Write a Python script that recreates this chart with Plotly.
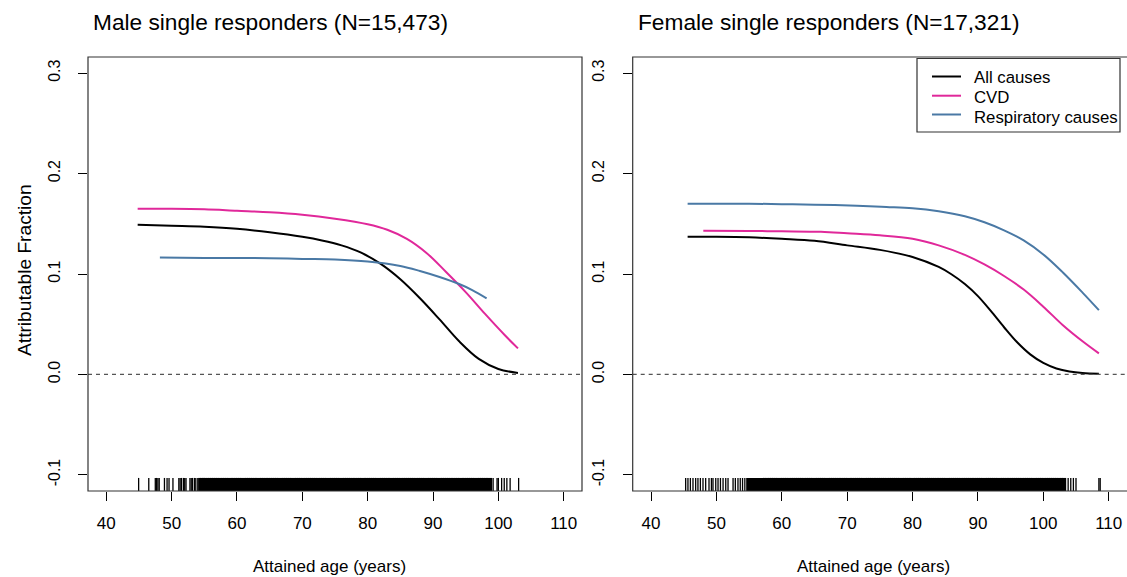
import plotly.graph_objects as go

W, H = 1127, 577

# ---------------- data ----------------
panel_titles = ["Male single responders (N=15,473)", "Female single responders (N=17,321)"]
series_names = ["All causes", "CVD", "Respiratory causes"]
series_colors = ["#000000", "#E0289A", "#4A79A5"]

male_all_age = [44.8, 50, 55, 60, 65, 70, 73, 76, 79, 82, 85, 88, 91, 94, 97, 100, 103]
male_all_af = [0.149, 0.148, 0.147, 0.145, 0.1415, 0.137, 0.1334, 0.1285, 0.1212, 0.1100, 0.0947, 0.0758, 0.0548, 0.033, 0.0155, 0.0055, 0.0015]

male_cvd_age = [44.8, 50, 55, 60, 65, 70, 75, 80, 83, 86, 89, 92, 95, 98, 101, 103]
male_cvd_af = [0.165, 0.165, 0.1645, 0.163, 0.1615, 0.159, 0.155, 0.1495, 0.144, 0.135, 0.121, 0.102, 0.082, 0.060, 0.039, 0.026]

male_resp_age = [48.2, 55, 60, 65, 70, 75, 80, 85, 88, 91, 94, 96, 98.2]
male_resp_af = [0.1163, 0.116, 0.116, 0.1157, 0.115, 0.1145, 0.1125, 0.108, 0.103, 0.097, 0.090, 0.084, 0.0758]

female_all_age = [45.6, 50, 55, 60, 65, 70, 75, 80, 84, 86, 88, 90, 92, 94, 96, 98, 100, 102, 104, 106, 108.5]
female_all_af = [0.137, 0.137, 0.1365, 0.135, 0.133, 0.1285, 0.124, 0.117, 0.107, 0.0995, 0.090, 0.078, 0.063, 0.047, 0.032, 0.020, 0.0115, 0.006, 0.003, 0.0015, 0.0008]

female_cvd_age = [48.0, 55, 60, 66, 70, 75, 80, 84, 88, 91, 94, 97, 100, 103, 106, 108.5]
female_cvd_af = [0.143, 0.1428, 0.1425, 0.142, 0.1405, 0.1385, 0.135, 0.1285, 0.119, 0.1095, 0.098, 0.0845, 0.0675, 0.049, 0.033, 0.021]

female_resp_age = [45.6, 55, 60, 65, 71.5, 76, 80, 84, 88, 91, 94, 97, 100, 103, 106, 108.5]
female_resp_af = [0.170, 0.170, 0.1695, 0.169, 0.168, 0.1668, 0.1655, 0.1625, 0.1575, 0.1515, 0.1435, 0.1335, 0.1195, 0.1015, 0.0815, 0.064]

# rug of attained ages: isolated marks (thin) and the dense core (thick)
male_rug_sparse = [
    44.95, 46.5, 47.5, 47.7, 47.9, 48.1, 48.9, 49.3, 49.6, 50.2, 51.1, 51.3, 51.5, 51.8, 52.0, 52.2,
    52.8, 53.0, 53.2, 53.5, 53.7, 54.0,
    99.2, 99.8, 100.0, 100.5, 100.9, 101.3, 101.8, 103.1,
]
male_rug_dense = [
    54.3, 54.6, 54.9,
    55.1, 55.45, 55.75, 56.1, 56.4, 56.75, 57.05, 57.4, 57.75, 58.1, 58.45, 58.75, 59.1, 59.4, 59.75,
    60.05, 60.4, 60.75, 61.1, 61.45, 61.75, 62.1, 62.4, 62.75, 63.05, 63.4, 63.75, 64.1, 64.45, 64.75,
    65.1, 65.4, 65.75, 66.05, 66.4, 66.75, 67.1, 67.45, 67.75, 68.1, 68.4, 68.75, 69.05, 69.4, 69.75,
    70.1, 70.45, 70.75, 71.1, 71.4, 71.75, 72.05, 72.4, 72.75, 73.1, 73.45, 73.75, 74.1, 74.4, 74.75,
    75.05, 75.4, 75.75, 76.1, 76.45, 76.75, 77.1, 77.4, 77.75, 78.05, 78.4, 78.75, 79.1, 79.45, 79.75,
    80.1, 80.4, 80.75, 81.05, 81.4, 81.75, 82.1, 82.45, 82.75, 83.1, 83.4, 83.75, 84.05, 84.4, 84.75,
    85.1, 85.45, 85.75, 86.1, 86.4, 86.75, 87.05, 87.4, 87.75, 88.1, 88.45, 88.75, 89.1, 89.4, 89.75,
    90.05, 90.4, 90.75, 91.1, 91.45, 91.75, 92.1, 92.4, 92.75, 93.05, 93.4, 93.75, 94.1, 94.45, 94.75,
    95.1, 95.4, 95.75, 96.05, 96.4, 96.75, 97.1, 97.45, 97.75, 98.1, 98.4, 98.8,
]

female_rug_sparse = [
    45.3, 45.65, 46.02, 46.42, 46.83, 47.18, 47.55, 47.95, 48.36, 48.87, 49.24, 49.48, 49.9, 50.25,
    50.62, 51.02, 51.43, 51.78, 52.55, 52.9, 53.3, 53.65, 54.0, 54.35,
    103.4, 103.8, 104.2, 104.6, 105.0, 108.5, 108.7,
]
female_rug_dense = [
    54.8,
    55.1, 55.45, 55.75, 56.1, 56.4, 56.75, 57.05, 57.4, 57.75, 58.1, 58.45, 58.75, 59.1, 59.4, 59.75,
    60.05, 60.4, 60.75, 61.1, 61.45, 61.75, 62.1, 62.4, 62.75, 63.05, 63.4, 63.75, 64.1, 64.45, 64.75,
    65.1, 65.4, 65.75, 66.05, 66.4, 66.75, 67.1, 67.45, 67.75, 68.1, 68.4, 68.75, 69.05, 69.4, 69.75,
    70.1, 70.45, 70.75, 71.1, 71.4, 71.75, 72.05, 72.4, 72.75, 73.1, 73.45, 73.75, 74.1, 74.4, 74.75,
    75.05, 75.4, 75.75, 76.1, 76.45, 76.75, 77.1, 77.4, 77.75, 78.05, 78.4, 78.75, 79.1, 79.45, 79.75,
    80.1, 80.4, 80.75, 81.05, 81.4, 81.75, 82.1, 82.45, 82.75, 83.1, 83.4, 83.75, 84.05, 84.4, 84.75,
    85.1, 85.45, 85.75, 86.1, 86.4, 86.75, 87.05, 87.4, 87.75, 88.1, 88.45, 88.75, 89.1, 89.4, 89.75,
    90.05, 90.4, 90.75, 91.1, 91.45, 91.75, 92.1, 92.4, 92.75, 93.05, 93.4, 93.75, 94.1, 94.45, 94.75,
    95.1, 95.4, 95.75, 96.05, 96.4, 96.75, 97.1, 97.45, 97.75, 98.1, 98.4, 98.75, 99.05, 99.4, 99.75,
    100.1, 100.45, 100.75, 101.1, 101.4, 101.75, 102.05, 102.4, 102.75, 103.1,
]

x_ticks = [40, 50, 60, 70, 80, 90, 100, 110]
y_ticks = [-0.1, 0.0, 0.1, 0.2, 0.3]
y_tick_labels = ["-0.1", "0.0", "0.1", "0.2", "0.3"]
x_title = "Attained age (years)"
y_title = "Attributable Fraction"

# ---------------- layout geometry ----------------
x_range = [37.2, 112.8]
y_range = [-0.116, 0.316]
rug_top = -0.103

panels_px = [(88, 582), (632.7, 1127)]
top_px, bot_px = 57, 491

def px(x):
    return x / W

def py(y):
    return 1 - y / H

FONT = "Liberation Sans, Arial, sans-serif"

fig = go.Figure()

panel_data = [
    [(male_all_age, male_all_af), (male_cvd_age, male_cvd_af), (male_resp_age, male_resp_af)],
    [(female_all_age, female_all_af), (female_cvd_age, female_cvd_af), (female_resp_age, female_resp_af)],
]
rugs = [(male_rug_sparse, male_rug_dense), (female_rug_sparse, female_rug_dense)]

for p in range(2):
    xa = "x" if p == 0 else "x2"
    ya = "y" if p == 0 else "y2"
    # rug
    for ages, w in ((rugs[p][0], 1.3), (rugs[p][1], 3.2)):
        rx, ry = [], []
        for a in ages:
            rx += [a, a, None]
            ry += [y_range[0], rug_top, None]
        fig.add_trace(go.Scatter(x=rx, y=ry, mode="lines", line=dict(color="black", width=w),
                                 showlegend=False, hoverinfo="skip", xaxis=xa, yaxis=ya))
    for s in range(3):
        ages, vals = panel_data[p][s]
        fig.add_trace(go.Scatter(
            x=ages, y=vals, mode="lines", name=series_names[s],
            line=dict(color=series_colors[s], width=2, shape="spline", smoothing=1.0),
            showlegend=False, xaxis=xa, yaxis=ya))
    # dashed zero line
    fig.add_shape(type="line", xref="paper", yref=ya,
                  x0=px(panels_px[p][0]), x1=px(panels_px[p][1]), y0=0, y1=0,
                  line=dict(color="#555555", width=1.2, dash="4px,4px"))

axis_common = dict(showgrid=False, zeroline=False, showline=False, ticks="outside",
                   ticklen=9, tickcolor="black", tickwidth=1)

for p in range(2):
    l, r = panels_px[p]
    sfx = "" if p == 0 else "2"
    fig.update_layout(**{
        "xaxis" + sfx: dict(domain=[px(l), min(px(r), 1.0)], range=x_range, tickvals=x_ticks,
                            anchor="y" + sfx, ticklabelstandoff=8,
                            tickfont=dict(family=FONT, size=17, color="black"), **axis_common),
        "yaxis" + sfx: dict(domain=[py(bot_px), py(top_px)], range=y_range, tickvals=y_ticks,
                            ticktext=y_tick_labels, tickangle=-90, anchor="x" + sfx,
                            ticklabelstandoff=12,
                            tickfont=dict(family=FONT, size=16, color="black"), **axis_common),
    })
    # box
    fig.add_shape(type="rect", xref="paper", yref="paper",
                  x0=px(l), x1=px(r if p == 0 else r + 3), y0=py(bot_px), y1=py(top_px),
                  line=dict(color="#333333", width=1.2))
    # title
    fig.add_annotation(text=panel_titles[p], xref="paper", yref="paper",
                       x=px(l + 3), y=py(22), xanchor="left", yanchor="middle", showarrow=False,
                       font=dict(family=FONT, size=22.7, color="black"))
    # x title
    fig.add_annotation(text=x_title, xref="paper", yref="paper",
                       x=px((l + r) / 2 - 6), y=py(566), xanchor="center", yanchor="middle",
                       showarrow=False, font=dict(family=FONT, size=17, color="black"))

fig.add_annotation(text=y_title, xref="paper", yref="paper", x=px(24), y=py(270),
                   textangle=-90, xanchor="center", yanchor="middle", showarrow=False,
                   font=dict(family=FONT, size=19.2, color="black"))

# legend (drawn in the right panel)
leg_box = (917, 58.5, 1120, 132)
leg_line_y = [76.5, 95.7, 114.5]
leg_text_y = [78, 97.5, 117]
fig.add_shape(type="rect", xref="paper", yref="paper",
              x0=px(leg_box[0]), x1=px(leg_box[2]), y0=py(leg_box[3]), y1=py(leg_box[1]),
              line=dict(color="#333333", width=1.2), fillcolor="white", layer="above")
for s in range(3):
    fig.add_shape(type="line", xref="paper", yref="paper",
                  x0=px(932), x1=px(961), y0=py(leg_line_y[s]), y1=py(leg_line_y[s]),
                  line=dict(color=series_colors[s], width=2), layer="above")
    fig.add_annotation(text=series_names[s], xref="paper", yref="paper",
                       x=px(972), y=py(leg_text_y[s]), xanchor="left", yanchor="middle",
                       showarrow=False, font=dict(family=FONT, size=16.8, color="black"))

fig.update_layout(
    width=W, height=H, margin=dict(l=0, r=0, t=0, b=0),
    paper_bgcolor="white", plot_bgcolor="white",
    showlegend=False,
)

fig.write_html("out.html", config={"displayModeBar": False},
               post_script="document.body.style.margin='0';document.body.style.overflow='hidden';")
